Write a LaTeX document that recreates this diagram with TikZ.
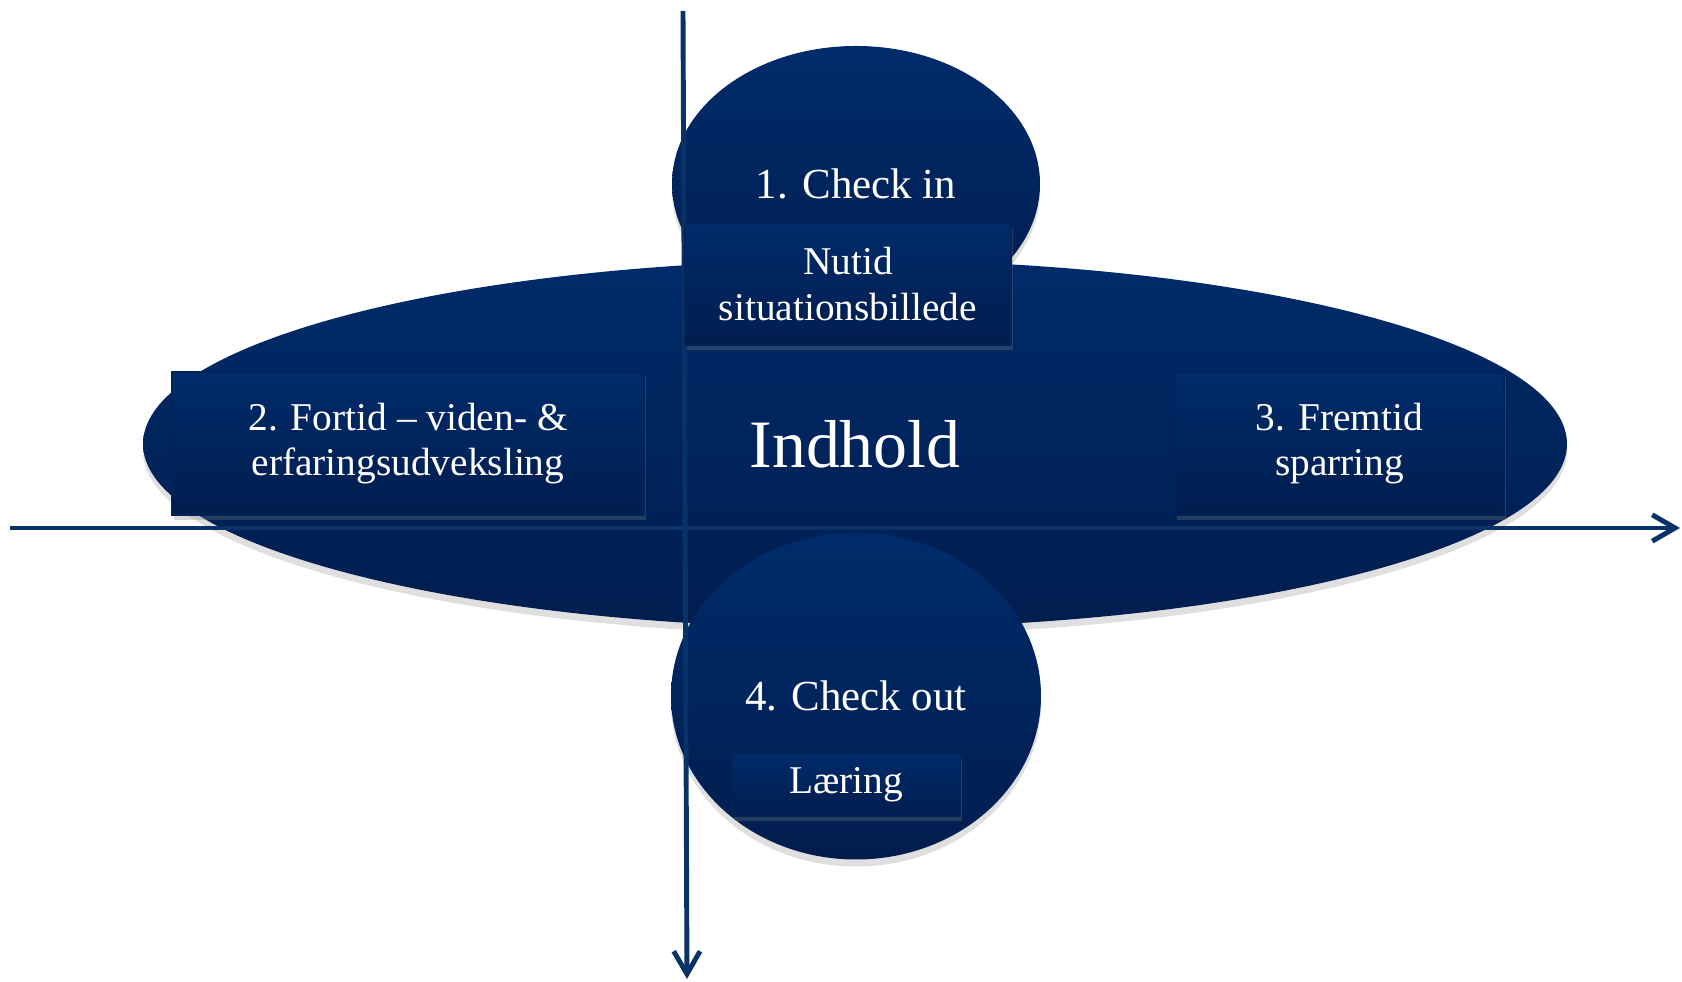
\documentclass[tikz,border=0pt]{standalone}
\usepackage{fontspec}
\setmainfont{Liberation Serif}
\usetikzlibrary{shapes.geometric,shadows,arrows.meta}
\definecolor{navytop}{RGB}{0,43,106}
\definecolor{navybot}{RGB}{0,29,78}
\definecolor{akselinje}{RGB}{8,50,104}

\begin{document}
\begin{tikzpicture}[
	fase/.style={ellipse, inner sep=0pt, top color=navytop, bottom color=navybot, text=white,
		drop shadow={opacity=0.25, shadow xshift=0pt, shadow yshift=-2pt}},
	boks/.style={rectangle, inner sep=0pt, top color=navytop, bottom color=navybot,
		draw=navybot!60!navytop, line width=0.4pt, text=white, align=center,
		font=\fontsize{11.2}{12.9}\selectfont,
		drop shadow={opacity=0.3, shadow xshift=0.5pt, shadow yshift=-1.5pt}},
	akse/.style={draw=akselinje, line width=1.4pt, -{Straight Barb[length=6.5pt,width=7.5pt]}}
]
\useasboundingbox (0,0) rectangle (16.82,9.82);

% Faser
\node[fase, minimum width=3.68cm, minimum height=2.76cm, font=\fontsize{12.2}{15}\selectfont] (checkin) at (8.56,7.98) {1. Check in};
\node[fase, minimum width=14.24cm, minimum height=3.68cm, font=\fontsize{19.3}{23}\selectfont] (indhold) at (8.55,5.38) {Indhold};
\node[fase, minimum width=3.70cm, minimum height=3.27cm, font=\fontsize{12.2}{15}\selectfont] (checkout) at (8.56,2.86) {4. Check out};

% Akser
\coordinate (xstart) at (0.10,4.54);
\coordinate (xslut) at (16.80,4.54);
\coordinate (ystart) at (6.83,9.71);
\coordinate (yslut) at (6.87,0.03);
\draw[akse] (xstart) -- (xslut);
\draw[akse] (ystart) -- (yslut);

% Bokse
\node[boks, minimum width=3.26cm, minimum height=1.22cm] (nutid) at (8.48,6.98) {Nutid\\situationsbillede};
\node[boks, minimum width=4.72cm, minimum height=1.43cm] (fortid) at (4.08,5.385) {2. Fortid -- viden- \&\\erfaringsudveksling};
\node[boks, minimum width=3.29cm, minimum height=1.43cm] (fremtid) at (13.395,5.385) {3. Fremtid\\sparring};
\node[boks, minimum width=2.28cm, minimum height=0.63cm] (laering) at (8.46,1.975) {Læring};
\end{tikzpicture}
\end{document}
